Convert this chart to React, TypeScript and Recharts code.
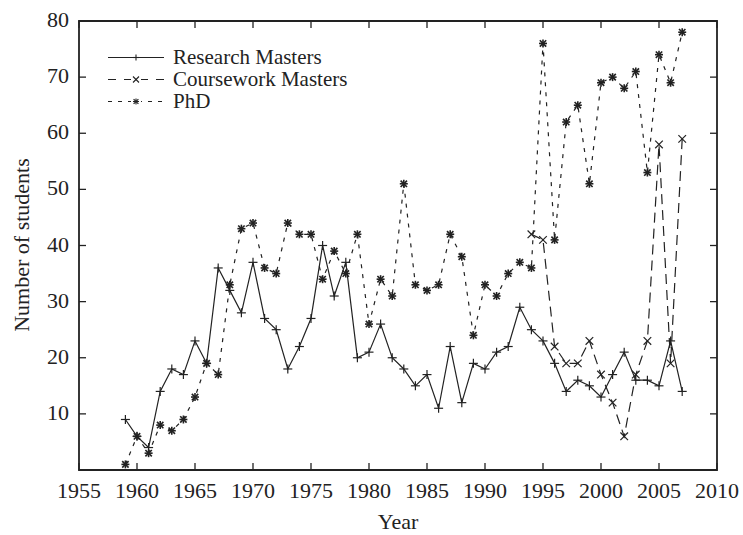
import { LineChart, Line, XAxis, YAxis, ReferenceArea } from "recharts";

const years = [
  1959, 1960, 1961, 1962, 1963, 1964, 1965, 1966, 1967, 1968,
  1969, 1970, 1971, 1972, 1973, 1974, 1975, 1976, 1977, 1978,
  1979, 1980, 1981, 1982, 1983, 1984, 1985, 1986, 1987, 1988,
  1989, 1990, 1991, 1992, 1993, 1994, 1995, 1996, 1997, 1998,
  1999, 2000, 2001, 2002, 2003, 2004, 2005, 2006, 2007,
];

const researchMasters = [
  9, 6, 4, 14, 18, 17, 23, 19, 36, 32,
  28, 37, 27, 25, 18, 22, 27, 40, 31, 37,
  20, 21, 26, 20, 18, 15, 17, 11, 22, 12,
  19, 18, 21, 22, 29, 25, 23, 19, 14, 16,
  15, 13, 17, 21, 16, 16, 15, 23, 14,
];

const phd = [
  1, 6, 3, 8, 7, 9, 13, 19, 17, 33,
  43, 44, 36, 35, 44, 42, 42, 34, 39, 35,
  42, 26, 34, 31, 51, 33, 32, 33, 42, 38,
  24, 33, 31, 35, 37, 36, 76, 41, 62, 65,
  51, 69, 70, 68, 71, 53, 74, 69, 78,
];

// coursework masters only recorded from 1994
const courseworkYears = [1994, 1995, 1996, 1997, 1998, 1999, 2000, 2001, 2002, 2003, 2004, 2005, 2006, 2007];
const coursework = [42, 41, 22, 19, 19, 23, 17, 12, 6, 17, 23, 58, 19, 59];

const xTicks = [1955, 1960, 1965, 1970, 1975, 1980, 1985, 1990, 1995, 2000, 2005, 2010];
const yTicks = [10, 20, 30, 40, 50, 60, 70, 80];

const seriesNames = ["Research Masters", "Coursework Masters", "PhD"];

const data = years.map((year, i) => {
  const c = courseworkYears.indexOf(year);
  return {
    year,
    rm: researchMasters[i],
    cm: c >= 0 ? coursework[c] : null,
    phd: phd[i],
  };
});

const INK = "#222";
const FONT = "'Liberation Serif', 'Times New Roman', serif";
const PLOT = { left: 79, top: 21, right: 717, bottom: 470 };
const TICK = 7;

const plusMark = (cx: number, cy: number, s: number, w: number) => (
  <g stroke={INK} strokeWidth={w}>
    <line x1={cx - s} x2={cx + s} y1={cy} y2={cy} />
    <line x1={cx} x2={cx} y1={cy - s} y2={cy + s} />
  </g>
);

const crossMark = (cx: number, cy: number, s: number, w: number) => (
  <g stroke={INK} strokeWidth={w}>
    <line x1={cx - s} x2={cx + s} y1={cy - s} y2={cy + s} />
    <line x1={cx - s} x2={cx + s} y1={cy + s} y2={cy - s} />
  </g>
);

const starMark = (cx: number, cy: number, s: number, w: number) => (
  <g>
    {plusMark(cx, cy, s, w)}
    {crossMark(cx, cy, s * 0.8, w)}
  </g>
);

const makeDot = (shape: (cx: number, cy: number, s: number, w: number) => JSX.Element, s: number, w: number) =>
  (props: any) => {
    const { cx, cy, index } = props;
    if (cx == null || cy == null || props.value == null) return <g key={`e-${index}`} />;
    return <g key={`d-${index}`}>{shape(cx, cy, s, w)}</g>;
  };

const XTick = (props: any) => {
  const { x, payload } = props;
  return (
    <g>
      <line x1={x} x2={x} y1={PLOT.bottom} y2={PLOT.bottom - TICK} stroke={INK} strokeWidth={1.3} />
      <line x1={x} x2={x} y1={PLOT.top} y2={PLOT.top + TICK} stroke={INK} strokeWidth={1.3} />
      <text x={x} y={PLOT.bottom + 28} textAnchor="middle" fontSize={22} fontFamily={FONT} fill={INK}>
        {payload.value}
      </text>
    </g>
  );
};

const YTick = (props: any) => {
  const { y, payload } = props;
  return (
    <g>
      <line x1={PLOT.left} x2={PLOT.left + TICK} y1={y} y2={y} stroke={INK} strokeWidth={1.3} />
      <line x1={PLOT.right} x2={PLOT.right - TICK} y1={y} y2={y} stroke={INK} strokeWidth={1.3} />
      <text x={PLOT.left - 10} y={y + 6} textAnchor="end" fontSize={22} fontFamily={FONT} fill={INK}>
        {payload.value}
      </text>
    </g>
  );
};

const LegendBox = () => {
  const rows = [
    { dash: undefined, mark: plusMark },
    { dash: "8 8", mark: crossMark },
    { dash: "4 6", mark: starMark },
  ];
  return (
    <svg width={743} height={535} style={{ position: "absolute", left: 0, top: 0, pointerEvents: "none" }}>
      {rows.map((r, i) => {
        const y = 57.5 + i * 22;
        return (
          <g key={i}>
            <line x1={108} x2={164} y1={y} y2={y} stroke={INK} strokeWidth={1.2} strokeDasharray={r.dash} />
            <rect x={131} y={y - 4} width={10} height={8} fill="white" opacity={i === 0 ? 0 : 1} />
            {r.mark(136, y, 3, 1.1)}
            <text x={173} y={y + 6.5} fontSize={21} fontFamily={FONT} fill={INK}>
              {seriesNames[i]}
            </text>
          </g>
        );
      })}
    </svg>
  );
};

export default function App() {
  return (
    <div style={{ position: "absolute", left: 0, top: 0, width: 743, height: 535, background: "#fff" }}>
      <LineChart width={743} height={535} data={data} margin={{ top: 21, right: 26, left: 0, bottom: 0 }}>
        <XAxis
          dataKey="year"
          type="number"
          domain={[1955, 2010]}
          ticks={xTicks}
          height={65}
          axisLine={false}
          tickLine={false}
          tickSize={0}
          tick={<XTick />}
          interval={0}
          label={{ value: "Year", position: "insideBottom", offset: 6, fontSize: 22, fontFamily: FONT, fill: INK }}
        />
        <YAxis
          type="number"
          domain={[0, 80]}
          ticks={yTicks}
          width={79}
          axisLine={false}
          tickLine={false}
          tickSize={0}
          tick={<YTick />}
          interval={0}
          label={{
            content: () => (
              <text
                transform="translate(29, 245) rotate(-90)"
                textAnchor="middle"
                fontSize={22}
                fontFamily={FONT}
                fill={INK}
              >
                Number of students
              </text>
            ),
          }}
        />
        <ReferenceArea x1={1955} x2={2010} y1={0} y2={80} fill="none" stroke={INK} strokeWidth={1.8} />
        <Line
          dataKey="rm"
          name={seriesNames[0]}
          stroke={INK}
          strokeWidth={1.2}
          dot={makeDot(plusMark, 4.5, 1.2)}
          isAnimationActive={false}
        />
        <Line
          dataKey="cm"
          name={seriesNames[1]}
          stroke={INK}
          strokeWidth={1.2}
          strokeDasharray="10 6"
          dot={makeDot(crossMark, 3.8, 1.2)}
          isAnimationActive={false}
        />
        <Line
          dataKey="phd"
          name={seriesNames[2]}
          stroke={INK}
          strokeWidth={1.2}
          strokeDasharray="4 6"
          dot={makeDot(starMark, 4, 1.6)}
          isAnimationActive={false}
        />
      </LineChart>
      <LegendBox />
    </div>
  );
}
